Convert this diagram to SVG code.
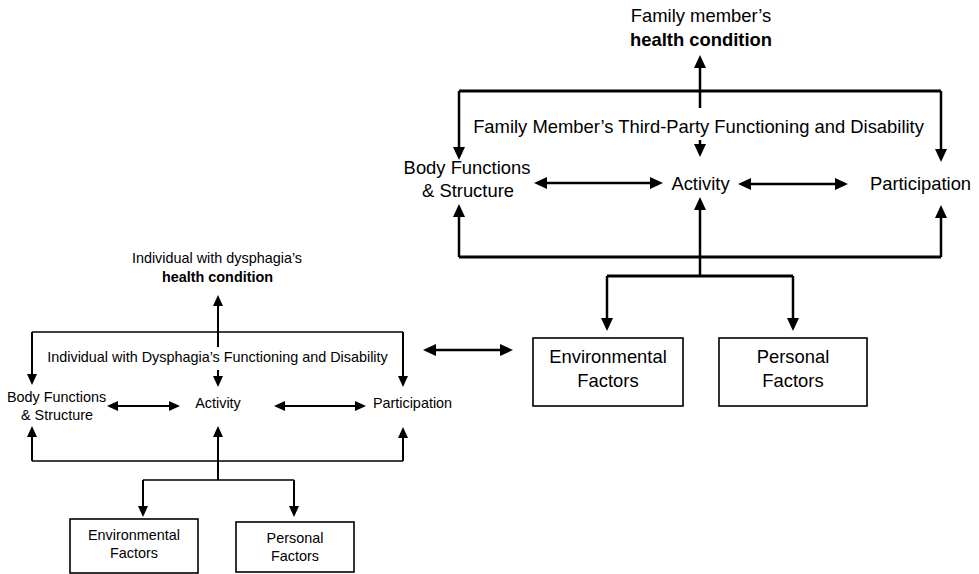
<svg xmlns="http://www.w3.org/2000/svg" width="979" height="574" viewBox="0 0 979 574">
<style>
text{font-family:"Liberation Sans",Arial,sans-serif;fill:#000;text-anchor:middle}
.L{font-size:18.4px}
.S{font-size:14.4px}
.b{font-weight:bold}
.f3{fill:none;stroke:#000;stroke-width:3}
.a3{fill:none;stroke:#000;stroke-width:2.5;marker-end:url(#ah)}
.d3{fill:none;stroke:#000;stroke-width:2.5;marker-start:url(#ah);marker-end:url(#ah)}
.f1{fill:none;stroke:#000;stroke-width:1.5}
.a1{fill:none;stroke:#000;stroke-width:2;marker-end:url(#as)}
.d1{fill:none;stroke:#000;stroke-width:2;marker-start:url(#as);marker-end:url(#as)}
.box{fill:#fff;stroke:#000;stroke-width:1.6}
</style>
<defs>
<marker id="ah" viewBox="0 0 13 12" markerWidth="13" markerHeight="12" refX="9" refY="6" orient="auto-start-reverse" markerUnits="userSpaceOnUse"><path d="M0,0 L13,6 L0,12 z" fill="#000"/></marker>
<marker id="as" viewBox="0 0 11 10" markerWidth="11" markerHeight="10" refX="8" refY="5" orient="auto-start-reverse" markerUnits="userSpaceOnUse"><path d="M0,0 L11,5 L0,10 z" fill="#000"/></marker>
</defs>

<g id="connectors">
  <path class="f3" d="M459,91 H941"/>
  <path class="a3" d="M459,91 V156"/>
  <path class="a3" d="M941,91 V158"/>
  <path class="a3" d="M700,108 V59"/>
  <path class="a3" d="M700,140 V153"/>
  <path class="d3" d="M538,183 H659"/>
  <path class="d3" d="M742,184 H844"/>
  <path class="f3" d="M459,257 H941"/>
  <path class="a3" d="M459,257 V208"/>
  <path class="a3" d="M941,257 V209"/>
  <path class="a3" d="M700,276 V201"/>
  <path class="f3" d="M607,276 H793"/>
  <path class="a3" d="M607,276 V327"/>
  <path class="a3" d="M793,276 V327"/>
  <path class="d3" d="M427,350 H509"/>
  <path class="a1" d="M218,347 V298"/>
  <path class="f1" d="M32,332 H403"/>
  <path class="a1" d="M32,332 V382"/>
  <path class="a1" d="M403,332 V384"/>
  <path class="a1" d="M218,370 V384"/>
  <path class="d1" d="M110,406 H177"/>
  <path class="d1" d="M277,406 H363"/>
  <path class="f1" d="M32,461 H403"/>
  <path class="a1" d="M32,461 V429"/>
  <path class="a1" d="M403,461 V430"/>
  <path class="a1" d="M218,480 V429"/>
  <path class="f1" d="M143,480 H294"/>
  <path class="a1" d="M143,480 V514"/>
  <path class="a1" d="M294,480 V514"/>
</g>

<g id="fm-health">
  <text class="L" x="701" y="22">Family member’s</text>
  <text class="L b" x="701" y="46">health condition</text>
</g>
<g id="fm-title">
  <text class="L" x="698.5" y="133">Family Member’s Third-Party Functioning and Disability</text>
</g>
<g id="fm-body">
  <text class="L" x="467" y="174">Body Functions</text>
  <text class="L" x="468" y="197">&amp; Structure</text>
</g>
<g id="fm-activity">
  <text class="L" x="700.5" y="190">Activity</text>
</g>
<g id="fm-participation">
  <text class="L" x="920.5" y="190">Participation</text>
</g>
<g id="fm-env">
  <rect class="box" x="533" y="338" width="150" height="68"/>
  <text class="L" x="608" y="363">Environmental</text>
  <text class="L" x="608" y="387">Factors</text>
</g>
<g id="fm-pers">
  <rect class="box" x="719" y="338" width="148" height="68"/>
  <text class="L" x="793" y="363">Personal</text>
  <text class="L" x="793" y="387">Factors</text>
</g>

<g id="id-health">
  <text class="S" x="217" y="263">Individual with dysphagia’s</text>
  <text class="S b" x="217.5" y="282">health condition</text>
</g>
<g id="id-title">
  <text class="S" x="217.5" y="362">Individual with Dysphagia’s Functioning and Disability</text>
</g>
<g id="id-body">
  <text class="S" x="56.5" y="402">Body Functions</text>
  <text class="S" x="57" y="420">&amp; Structure</text>
</g>
<g id="id-activity">
  <text class="S" x="218" y="408">Activity</text>
</g>
<g id="id-participation">
  <text class="S" x="412.5" y="408">Participation</text>
</g>
<g id="id-env">
  <rect class="box" x="70" y="519" width="128" height="54"/>
  <text class="S" x="134" y="540">Environmental</text>
  <text class="S" x="134" y="558">Factors</text>
</g>
<g id="id-pers">
  <rect class="box" x="236" y="522" width="118" height="50"/>
  <text class="S" x="295" y="543">Personal</text>
  <text class="S" x="295" y="561">Factors</text>
</g>
</svg>
